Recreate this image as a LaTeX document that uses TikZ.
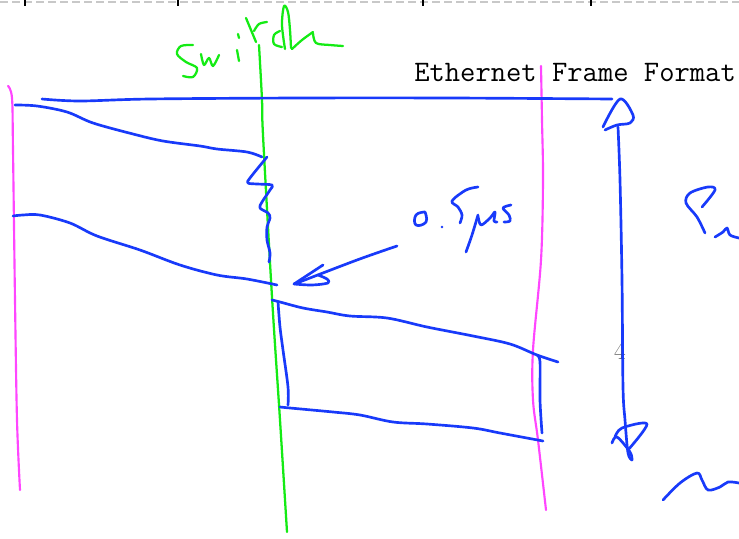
\documentclass[tikz,border=0pt]{standalone}
\usepackage{xcolor}
\definecolor{inkblue}{RGB}{24,58,250}
\definecolor{inkpink}{RGB}{255,70,255}
\definecolor{inkgreen}{RGB}{20,235,20}
\definecolor{tickgray}{RGB}{200,200,200}
\tikzset{
  blueink/.style={draw=inkblue, line width=2pt, line cap=round, line join=round},
  pinkink/.style={draw=inkpink, line width=1.6pt, line cap=round, line join=round},
  greenink/.style={draw=inkgreen, line width=1.7pt, line cap=round, line join=round},
  sm/.style={smooth, tension=0.55},
}
\begin{document}
\begin{tikzpicture}[x=0.75pt, y=-0.75pt]
\useasboundingbox (0,0) rectangle (739,539);
\fill[white] (0,0) rectangle (739,539);
% top dashed ruler
\draw[tickgray, line width=1pt, dash pattern=on 6pt off 3pt] (0,2) -- (739,2);
\foreach \tx in {25,178,423,591} \draw[black, line width=0.9pt] (\tx,0) -- (\tx,6);
% title text
\node[anchor=base west, inner sep=0pt, font=\fontsize{22.3}{26}\selectfont\ttfamily] (title) at (414,81) {Ethernet Frame Format};
\node[anchor=base, inner sep=0pt, text=black!70, font=\fontsize{19}{22}\selectfont] (four) at (620,359) {4};
% pink verticals
\draw[pinkink] plot[sm] coordinates {(8,86) (12,98) (13,150) (15,300) (17,420) (20,490)};
\draw[pinkink] plot[sm] coordinates {(541,66) (542,120) (543,180) (541,260) (533,350) (533,400) (538,440) (546,510)};
% green vertical + Switch
\draw[greenink] plot[sm] coordinates {(259,45) (262,100) (263,135) (272,297) (280,420) (287,532)};
\draw[greenink] plot[sm] coordinates {(193,45) (181,46) (177,54) (186,62) (197,68) (193,77) (183,76)};
\draw[greenink] plot[sm] coordinates {(201,54) (204,65) (209,58) (213,66) (219,55)};
\draw[greenink] (237,50) -- (239,61);
\draw[greenink] (238,34) -- (239,38);
\draw[greenink] (246,18) -- (256,42);
\draw[greenink] plot[sm] coordinates {(254,31) (259,24) (267,22)};
\draw[greenink] plot[sm] coordinates {(280,31) (274,35) (274,44) (282,47)};
\draw[greenink] plot[sm] coordinates {(285,49) (282,25) (284,6) (288,12) (290,30) (291,48)};
\draw[greenink] plot[sm] coordinates {(292,49) (302,40) (313,32)};
\draw[greenink] plot[sm] coordinates {(313,33) (316,43) (330,45) (343,46)};
% blue lines
\draw[blueink] plot[sm] coordinates {(42,99) (80,101) (150,99) (300,98) (450,98) (612,99)};
\draw[blueink] plot[sm] coordinates {(15,105) (37,106) (67,112) (93,123) (133,134) (163,141) (200,146) (217,149) (247,152) (262,157)};
\draw[blueink] plot[sm] coordinates {(267,157) (250,178) (248,183) (257,184) (272,185) (270,190) (262,202) (260,208) (268,213) (270,218) (267,227) (267,240) (270,253) (269,262)};
\draw[blueink] plot[sm] coordinates {(13,216) (23,215) (40,215) (70,223) (97,236) (140,250) (180,265) (217,275) (247,279) (277,285)};
\draw[blueink] plot[sm] coordinates {(272,300) (280,302) (303,308) (327,312) (350,316) (387,318) (427,327) (473,336) (510,344) (537,355) (558,362)};
\draw[blueink] plot[sm] coordinates {(278,302) (280,327) (283,350) (288,387) (288,405)};
\draw[blueink] plot[sm] coordinates {(280,407) (290,408) (333,412) (360,415) (393,422) (427,424) (473,428) (500,433) (543,441)};
\draw[blueink] plot[sm] coordinates {(537,355) (540,362) (540,400) (542,433)};
% 0.5us arrow
\draw[blueink] plot[sm] coordinates {(397,246) (357,260) (297,283)};
\draw[blueink] (323,265) -- (294,284);
\draw[blueink] plot[sm] coordinates {(294,284) (312,285) (328,283) (327,279) (318,275)};
% 0.5us
\draw[blueink] plot[sm, tension=0.8] coordinates {(425,212) (416,215) (416,225) (426,222) (425,212)};
\fill[inkblue] (442,227) circle (1.3);
\draw[blueink] plot[sm] coordinates {(478,187) (466,190) (452,201) (458,207) (462,215) (460,223)};
\draw[blueink] plot[sm] coordinates {(466,252) (472,235) (478,215)};
\draw[blueink] plot[sm] coordinates {(478,216) (481,225) (490,218) (495,212) (494,221) (497,222)};
\draw[blueink] plot[sm] coordinates {(511,205) (503,208) (509,215) (510,221) (504,222)};
% double arrow right
\draw[blueink] plot[sm] coordinates {(618,127) (620,180) (622,280) (623,387) (625,420) (628,453) (632,460)};
\draw[blueink] plot[sm] coordinates {(603,127) (620,99) (633,115) (630,123) (617,125) (605,130)};
\draw[blueink] plot[sm] coordinates {(612,443) (617,437) (630,452) (632,460)};
\draw[blueink] plot[sm] coordinates {(615,437) (622,428) (647,424) (628,450)};
% right-edge fragments
\draw[blueink] plot[sm] coordinates {(702,207) (715,190) (708,187) (690,193) (686,203) (697,217) (705,233)};
\draw[blueink] plot[sm] coordinates {(715,237) (723,232) (727,228) (730,235) (739,238)};
\draw[blueink] plot[sm] coordinates {(663,500) (680,483) (697,473) (702,480) (708,490) (720,487) (728,482) (739,483)};
\end{tikzpicture}
\end{document}
